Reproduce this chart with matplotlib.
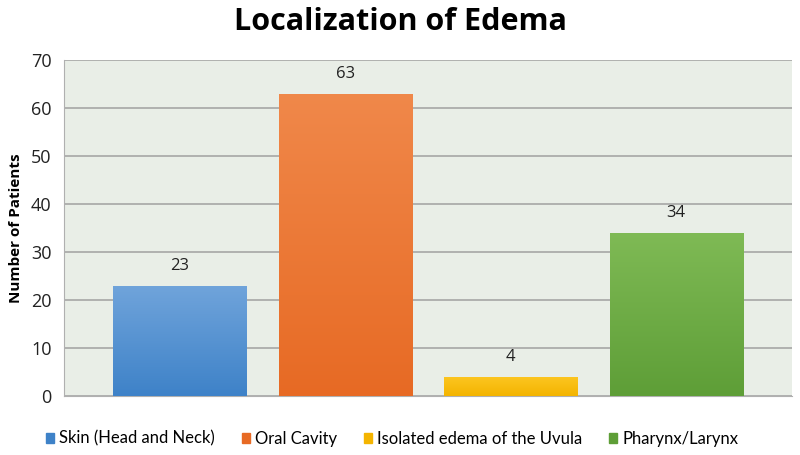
import numpy as np
import matplotlib.pyplot as plt
from matplotlib.colors import LinearSegmentedColormap

# Data
categories = ["Skin (Head and Neck)", "Oral Cavity", "Isolated edema of the Uvula", "Pharynx/Larynx"]
patients = [23, 63, 4, 34]

# top / bottom colour of each bar gradient
top_colors = ["#70a4db", "#f0884a", "#fcc622", "#7fba55"]
bottom_colors = ["#3e82c8", "#e76a24", "#f4b400", "#5e9e37"]

fig = plt.figure(figsize=(8, 4.55), dpi=100)
ax = fig.add_axes([0.08, 0.1297, 0.91, 0.7385])
ax.set_facecolor("#e9eee7")

x = np.arange(len(categories))
bars = ax.bar(x, patients, width=0.805, color=bottom_colors, zorder=2)

# Gradient fill clipped to each bar
grad = np.linspace(0, 1, 256).reshape(-1, 1)
for b, c_top, c_bot in zip(bars, top_colors, bottom_colors):
    cmap = LinearSegmentedColormap.from_list("g", [c_bot, c_top])
    x0, y0 = b.get_x(), b.get_y()
    im = ax.imshow(grad, cmap=cmap, origin="lower", aspect="auto",
                   extent=[x0, x0 + b.get_width(), y0, y0 + b.get_height()], zorder=3)
    im.set_clip_path(b)
    ax.text(b.get_x() + b.get_width() / 2, b.get_height() + 2.4, str(int(b.get_height())),
            ha="center", va="bottom", fontsize=12, family="Open Sans", color="#222222", zorder=4)

ax.set_xlim(-0.70, 3.70)
ax.set_ylim(0, 70)
ax.set_yticks(range(0, 71, 10))
ax.set_xticks([])
ax.tick_params(axis="y", length=0, labelsize=13, pad=9)
for t in ax.get_yticklabels():
    t.set_family("Open Sans")
    t.set_color("#222222")

ax.grid(axis="y", color="#a6a6a6", linewidth=1.2, zorder=1)
ax.set_axisbelow(True)
for s in ["top", "right"]:
    ax.spines[s].set_visible(False)
ax.spines["left"].set_color("#b0b0b0")
ax.spines["bottom"].set_color("#b0b0b0")

ax.set_ylabel("Number of Patients", fontsize=11, fontweight="bold", family="Open Sans", labelpad=6)

fig.text(0.5, 0.952, "Localization of Edema", ha="center", va="center",
         fontsize=22, fontweight="bold", family="Open Sans")

# Legend with square markers
handles = [plt.Rectangle((0, 0), 1, 1, color=c) for c in bottom_colors]
fig.legend(handles, categories, loc="lower center", bbox_to_anchor=(0.49, -0.015), ncol=4,
           frameon=False, handlelength=0.5, handleheight=0.5, handletextpad=0.3,
           columnspacing=1.6, prop={"family": "Lato", "size": 12})

fig.savefig("out.png", dpi=100, facecolor="white")
